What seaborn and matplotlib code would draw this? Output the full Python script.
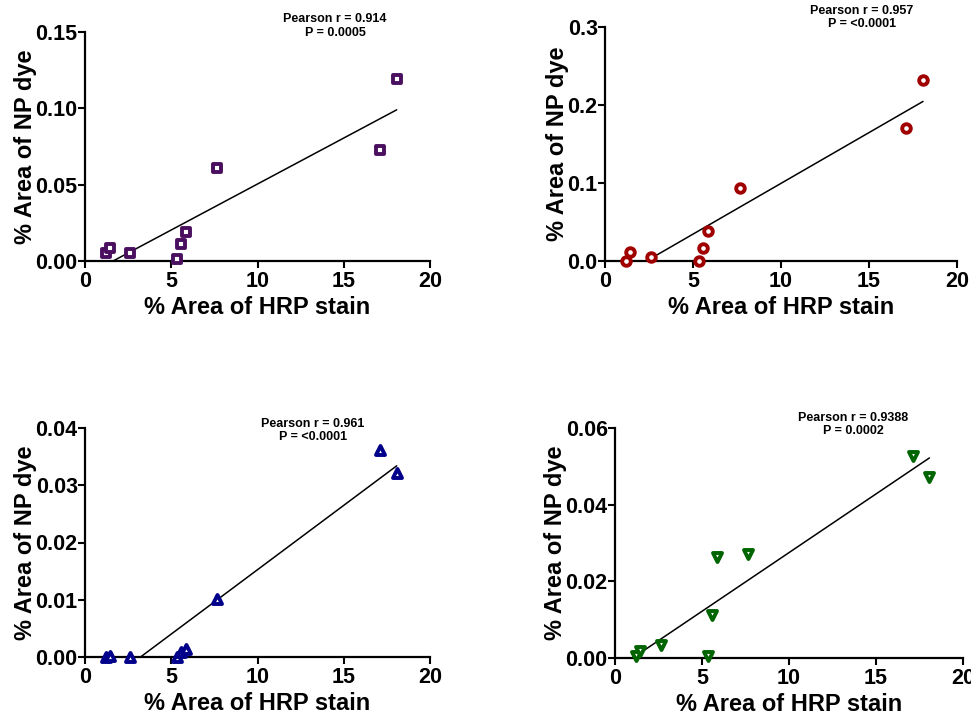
import numpy as np
import pandas as pd
import matplotlib
matplotlib.use("Agg")
import matplotlib.pyplot as plt
import seaborn as sns
from matplotlib.ticker import FormatStrFormatter

sns.set_style("ticks")
plt.rcParams['font.family'] = ['Liberation Sans', 'DejaVu Sans']
plt.rcParams['font.weight'] = 'bold'
plt.rcParams['text.color'] = 'black'
plt.rcParams['axes.labelcolor'] = 'black'
plt.rcParams['xtick.color'] = 'black'
plt.rcParams['ytick.color'] = 'black'

# Data (shared x: % Area of HRP stain)
hrp = [1.2, 1.43, 2.63, 5.35, 5.58, 5.88, 7.66, 17.1, 18.07]
np_dye_1 = [0.0050, 0.0083, 0.0055, 0.0011, 0.0110, 0.0188, 0.0610, 0.0730, 0.1190]
np_dye_2 = [0.0000, 0.0110, 0.0055, 0.0000, 0.0170, 0.0380, 0.0940, 0.1710, 0.2326]
np_dye_3 = [0.0000, 0.0002, 0.0000, 0.0000, 0.0008, 0.0014, 0.0101, 0.0362, 0.0321]
np_dye_4 = [0.0004, 0.0017, 0.0035, 0.0004, 0.0113, 0.0264, 0.0271, 0.0527, 0.0471]

stats_text = ["Pearson r = 0.914\nP = 0.0005",
              "Pearson r = 0.957\nP = <0.0001",
              "Pearson r = 0.961\nP = <0.0001",
              "Pearson r = 0.9388\nP = 0.0002"]
y_ticks = [[0.0, 0.05, 0.10, 0.15], [0.0, 0.1, 0.2, 0.3],
           [0.0, 0.01, 0.02, 0.03, 0.04], [0.0, 0.02, 0.04, 0.06]]
y_fmt = ['%.2f', '%.1f', '%.2f', '%.2f']
x_ticks = [0, 5, 10, 15, 20]
colors = ['#4B0F5F', '#A00000', '#00008B', '#006400']
markers = ['s', 'o', '^', 'v']
series = [np_dye_1, np_dye_2, np_dye_3, np_dye_4]

W, H = 971, 715
# axes boxes in pixels: left, right, top, bottom
boxes = [(85, 430, 32, 261), (605, 957, 27, 261), (85, 430, 428, 657), (615, 963, 428, 658)]
ann_pos = [(0.725, 1.026), (0.730, 1.041), (0.661, 0.989), (0.684, 1.015)]
marker_sizes = [34, 38, 42, 42]

fig = plt.figure(figsize=(W / 100, H / 100), dpi=100)

for i in range(4):
    l, r, t, b = boxes[i]
    ax = fig.add_axes([l / W, (H - b) / H, (r - l) / W, (b - t) / H])
    df = pd.DataFrame({'hrp': hrp, 'dye': series[i]})
    sns.regplot(data=df, x='hrp', y='dye', ax=ax, ci=None, truncate=True,
                marker=markers[i],
                scatter_kws=dict(s=marker_sizes[i], facecolors='white', edgecolors=colors[i],
                                 linewidths=2.8, alpha=1, clip_on=False, zorder=3),
                line_kws=dict(color='black', lw=1.1, zorder=2))
    ax.set_xlim(0, 20)
    ax.set_ylim(0, y_ticks[i][-1])
    ax.set_xticks(x_ticks)
    ax.set_yticks(y_ticks[i])
    ax.yaxis.set_major_formatter(FormatStrFormatter(y_fmt[i]))
    ax.set_xlabel('% Area of HRP stain', fontsize=17, fontweight='bold', labelpad=3, color='black')
    ax.set_ylabel('% Area of NP dye', fontsize=17, fontweight='bold', labelpad=-1, color='black')
    ax.tick_params(axis='both', labelsize=15.5, width=1.5, length=5, color='black',
                   labelcolor='black')
    ax.tick_params(axis='x', pad=2)
    ax.tick_params(axis='y', pad=0.3)
    for lab in ax.get_xticklabels() + ax.get_yticklabels():
        lab.set_fontweight('bold')
    sns.despine(ax=ax)
    for sp in ['left', 'bottom']:
        ax.spines[sp].set_linewidth(1.6)
        ax.spines[sp].set_color('black')
    ax.text(ann_pos[i][0], ann_pos[i][1], stats_text[i], transform=ax.transAxes,
            ha='center', va='center', multialignment='center', color='black',
            fontsize=9, fontweight='bold', linespacing=1.15)

fig.savefig('out.png', dpi=100, facecolor='white')
